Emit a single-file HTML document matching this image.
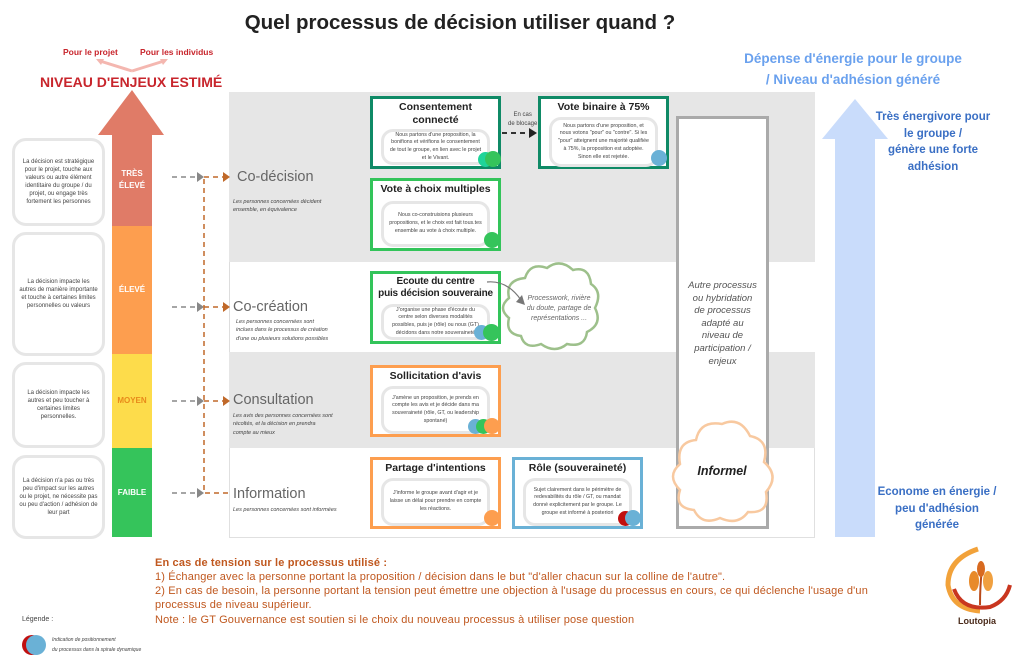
<!DOCTYPE html>
<html><head><meta charset="utf-8"><style>
*{margin:0;padding:0;box-sizing:border-box}
body{width:1024px;height:669px;background:#fff;position:relative;overflow:hidden;font-family:"Liberation Sans",sans-serif}
.a{position:absolute}
.lb{position:absolute;left:12px;width:93px;border:3px solid #e6e6e6;border-radius:14px;font-size:6px;color:#444;text-align:center;display:flex;align-items:center;justify-content:center;padding:4px;line-height:1.35}
.lvl{position:absolute;left:112px;width:40px;color:#fff;font-weight:bold;font-size:8px;text-align:center;display:flex;align-items:center;justify-content:center;line-height:1.5}
.h{position:absolute;font-size:14.5px;color:#666}
.sub{position:absolute;font-size:5.5px;color:#444;font-style:italic;line-height:1.5}
.card{position:absolute;background:#fff;border:3px solid;text-align:center}
.card b{display:block;font-size:10.5px;color:#222;line-height:1.2;margin-top:2px;white-space:nowrap}
.in{position:absolute;left:8px;right:8px;border:3px solid #e6e6e6;border-radius:12px;font-size:5.3px;color:#444;line-height:1.45;display:flex;align-items:center;justify-content:center;padding:2px 5px}
.dot{position:absolute;width:14px;height:14px;border-radius:50%}
.bt{position:absolute;color:#3a6fc4;font-weight:bold;font-size:11.5px;text-align:center;line-height:1.45}
.fb{position:absolute;left:155px;font-size:11px;letter-spacing:0.15px;color:#c0581f;line-height:14.3px}
</style></head><body>
<div class="a" style="left:0;top:11px;width:920px;text-align:center;font-weight:bold;font-size:20.5px;color:#222">Quel processus de décision utiliser quand ?</div>

<div class="a" style="left:63px;top:47px;font-size:8.5px;color:#c8252c;font-weight:bold">Pour le projet</div>
<div class="a" style="left:140px;top:47px;font-size:8.5px;color:#c8252c;font-weight:bold">Pour les individus</div>
<svg class="a" style="left:90px;top:55px" width="80" height="20"><path d="M42 16 L10 6 M42 16 L74 6" stroke="#f4b7b0" stroke-width="3" fill="none"/><path d="M6 4 L14 4 L11 10Z M78 4 L70 4 L73 10Z" fill="#f4b7b0"/></svg>
<div class="a" style="left:40px;top:74px;font-size:14px;color:#c8252c;font-weight:bold">NIVEAU D'ENJEUX ESTIMÉ</div>

<div class="a" style="left:736px;top:48px;width:234px;text-align:center;font-size:13.5px;color:#6aa1ee;font-weight:bold;line-height:21px">Dépense d'énergie pour le groupe<br>/ Niveau d'adhésion généré</div>

<div class="a" style="left:229px;top:92px;width:586px;height:170px;background:#e6e6e6"></div>
<div class="a" style="left:229px;top:262px;width:586px;height:90px;background:#fff;border-left:1px solid #ddd"></div>
<div class="a" style="left:229px;top:352px;width:586px;height:96px;background:#e6e6e6"></div>
<div class="a" style="left:229px;top:448px;width:586px;height:90px;background:#fff;border:1px solid #e0e0e0;border-top:none"></div>

<svg class="a" style="left:98px;top:88px" width="68" height="50"><path d="M34 2 L66 47 L0 47Z" fill="#e07b67"/></svg>
<div class="lvl" style="top:134px;height:92px;background:#e07b67">TRÈS<br>ÉLEVÉ</div>
<div class="lvl" style="top:226px;height:128px;background:#fd9e4f">ÉLEVÉ</div>
<div class="lvl" style="top:354px;height:94px;background:#fddc4b;color:#e88a1a">MOYEN</div>
<div class="lvl" style="top:448px;height:89px;background:#35c45b">FAIBLE</div>

<div class="lb" style="top:138px;height:88px">La décision est stratégique pour le projet, touche aux valeurs ou autre élément identitaire du groupe / du projet, ou engage très fortement les personnes</div>
<div class="lb" style="top:232px;height:124px">La décision impacte les autres de manière importante et touche à certaines limites personnelles ou valeurs</div>
<div class="lb" style="top:362px;height:86px">La décision impacte les autres et peu toucher à certaines limites personnelles.</div>
<div class="lb" style="top:455px;height:84px">La décision n'a pas ou très peu d'impact sur les autres ou le projet, ne nécessite pas ou peu d'action / adhésion de leur part</div>

<svg class="a" style="left:170px;top:165px" width="62" height="340">
<g stroke="#888" stroke-width="1.5" stroke-dasharray="5,4" fill="none">
<path d="M2 12 H28"/><path d="M2 142 H28"/><path d="M2 236 H28"/><path d="M2 328 H28"/></g>
<g fill="#888"><path d="M34 12 L27 7 L27 17Z"/><path d="M34 142 L27 137 L27 147Z"/><path d="M34 236 L27 231 L27 241Z"/><path d="M34 328 L27 323 L27 333Z"/></g>
<g stroke="#c0692a" stroke-width="1.5" stroke-dasharray="5,4" fill="none">
<path d="M34 14 V328 H60"/><path d="M34 12 H54"/><path d="M34 142 H54"/><path d="M34 236 H54"/></g>
<g fill="#c0692a"><path d="M60 12 L53 7 L53 17Z"/><path d="M60 142 L53 137 L53 147Z"/><path d="M60 236 L53 231 L53 241Z"/></g>
</svg>

<div class="h" style="left:237px;top:169px">Co-décision</div>
<div class="sub" style="left:233px;top:198px">Les personnes concernées décident<br>ensemble, en équivalence</div>
<div class="h" style="left:233px;top:299px">Co-création</div>
<div class="sub" style="left:236px;top:318px">Les personnes concernées sont<br>inclues dans le processus de création<br>d'une ou plusieurs solutions possibles</div>
<div class="h" style="left:233px;top:392px">Consultation</div>
<div class="sub" style="left:233px;top:412px">Les avis des personnes concernées sont<br>récoltés, et la décision en prendra<br>compte au mieux</div>
<div class="h" style="left:233px;top:486px">Information</div>
<div class="sub" style="left:233px;top:506px">Les personnes concernées sont informées</div>

<div class="card" style="left:370px;top:96px;width:131px;height:73px;border-color:#0f8a66"><b>Consentement<br>connecté</b>
<div class="in" style="top:30px;height:36px">Nous partons d'une proposition, la bonifions et vérifions le consentement de tout le groupe, en lien avec le projet et le Vivant.</div>
<div class="dot" style="left:105px;top:53px;background:#1fd49a;width:15px;height:15px"></div><div class="dot" style="left:112px;top:52px;background:#35c45b;width:16px;height:16px"></div></div>
<div class="a" style="left:508px;top:111px;font-size:6px;color:#444;text-align:center;line-height:1.5">En cas<br>de blocage</div>
<svg class="a" style="left:500px;top:127px" width="40" height="12"><path d="M2 6 H30" stroke="#333" stroke-width="2" stroke-dasharray="5,4"/><path d="M37 6 L29 1 L29 11Z" fill="#222"/></svg>
<div class="card" style="left:538px;top:96px;width:131px;height:73px;border-color:#0f8a66"><b>Vote binaire à 75%</b>
<div class="in" style="top:18px;height:50px">Nous partons d'une proposition, et nous votons "pour" ou "contre". Si les "pour" atteignent une majorité qualifiée à 75%, la proposition est adoptée. Sinon elle est rejetée.</div>
<div class="dot" style="left:110px;top:51px;background:#6ab1d6;width:16px;height:16px"></div></div>
<div class="card" style="left:370px;top:178px;width:131px;height:73px;border-color:#33c45a"><b>Vote à choix multiples</b>
<div class="in" style="top:20px;height:46px">Nous co-construisions plusieurs propositions, et le choix est fait tous.tes ensemble au vote à choix multiple.</div>
<div class="dot" style="left:111px;top:51px;background:#35c45b;width:16px;height:16px"></div></div>

<div class="card" style="left:370px;top:271px;width:131px;height:73px;border-color:#33c45a"><b style="font-size:10px;letter-spacing:-0.2px">Ecoute du centre<br>puis décision souveraine</b>
<div class="in" style="top:30px;height:36px">J'organise une phase d'écoute du centre selon diverses modalités possibles, puis je (rôle) ou nous (GT) décidons dans notre souveraineté</div>
<div class="dot" style="left:101px;top:51px;background:#6ab1d6;width:15px;height:15px"></div><div class="dot" style="left:110px;top:50px;background:#35c45b;width:17px;height:17px"></div></div>
<svg class="a" style="left:485px;top:258px" width="122" height="96">
<path d="M40 20 Q45 4 62 10 Q75 0 88 12 Q104 8 106 26 Q118 34 110 50 Q118 66 102 74 Q100 90 82 86 Q70 96 56 86 Q40 92 36 78 Q20 76 24 60 Q12 50 24 40 Q20 22 40 20Z" fill="#fff" stroke="#9dc08b" stroke-width="2.5"/>
<path d="M2 24 Q22 22 36 42" stroke="#777" stroke-width="1.2" fill="none"/><path d="M40 47 L31 44 L37 37Z" fill="#777"/>
<text x="74" y="42" font-size="7" fill="#666" font-style="italic" text-anchor="middle" font-family="Liberation Sans">Processwork, rivière</text>
<text x="74" y="52" font-size="7" fill="#666" font-style="italic" text-anchor="middle" font-family="Liberation Sans">du doute, partage de</text>
<text x="74" y="62" font-size="7" fill="#666" font-style="italic" text-anchor="middle" font-family="Liberation Sans">représentations ...</text></svg>

<div class="card" style="left:370px;top:365px;width:131px;height:72px;border-color:#fd9e4f"><b>Sollicitation d'avis</b>
<div class="in" style="top:18px;height:48px">J'amène un proposition, je prends en compte les avis et je décide dans ma souveraineté (rôle, GT, ou leadership spontané)</div>
<div class="dot" style="left:95px;top:51px;background:#6ab1d6;width:15px;height:15px"></div><div class="dot" style="left:103px;top:51px;background:#35c45b;width:15px;height:15px"></div><div class="dot" style="left:111px;top:50px;background:#fd9e4f;width:16px;height:16px"></div></div>

<div class="card" style="left:370px;top:457px;width:131px;height:72px;border-color:#fd9e4f"><b>Partage d'intentions</b>
<div class="in" style="top:18px;height:48px">J'informe le groupe avant d'agir et je laisse un délai pour prendre en compte les réactions.</div>
<div class="dot" style="left:111px;top:50px;background:#fd9e4f;width:16px;height:16px"></div></div>
<div class="card" style="left:512px;top:457px;width:131px;height:72px;border-color:#6ab1d6"><b>Rôle (souveraineté)</b>
<div class="in" style="top:18px;height:48px">Sujet clairement dans le périmètre de redevabilités du rôle / GT, ou mandat donné explicitement par le groupe. Le groupe est informé à posteriori</div>
<div class="dot" style="left:103px;top:51px;background:#c01010;width:15px;height:15px"></div><div class="dot" style="left:110px;top:50px;background:#6ab1d6;width:16px;height:16px"></div></div>

<div class="a" style="left:676px;top:116px;width:93px;height:413px;background:#fff;border:3px solid #aaa"></div>
<div class="a" style="left:676px;top:280px;width:93px;text-align:center;font-size:9.5px;font-style:italic;color:#555;line-height:12.6px">Autre processus<br>ou hybridation<br>de processus<br>adapté au<br>niveau de<br>participation /<br>enjeux</div>
<svg class="a" style="left:666px;top:412px" width="112" height="115">
<path d="M30 28 Q34 8 56 12 Q74 4 84 24 Q104 28 98 50 Q114 64 100 80 Q104 102 82 100 Q72 114 54 106 Q36 114 28 98 Q8 96 14 78 Q0 64 14 52 Q10 30 30 28Z" fill="#fff" stroke="#f8c9a0" stroke-width="2.5"/>
<text x="56" y="63" font-size="12.5" font-weight="bold" font-style="italic" fill="#222" text-anchor="middle" font-family="Liberation Sans">Informel</text></svg>

<svg class="a" style="left:822px;top:99px" width="68" height="440"><path d="M33 0 L66 40 L53 40 L53 438 L13 438 L13 40 L0 40Z" fill="#c9dcfb"/></svg>
<div class="bt" style="left:868px;top:109px;width:130px">Très énergivore pour<br>le groupe /<br>génère une forte<br>adhésion</div>
<div class="bt" style="left:872px;top:484px;width:130px">Econome en énergie /<br>peu d'adhésion<br>générée</div>

<div class="fb" style="top:556px;font-weight:bold">En cas de tension sur le processus utilisé :</div>
<div class="fb" style="top:570px">1) Échanger avec la personne portant la proposition / décision dans le but "d'aller chacun sur la colline de l'autre".</div>
<div class="fb" style="top:584px">2) En cas de besoin, la personne portant la tension peut émettre une objection à l'usage du processus en cours, ce qui déclenche l'usage d'un<br>processus de niveau supérieur.</div>
<div class="fb" style="top:613px">Note : le GT Gouvernance est soutien si le choix du nouveau processus à utiliser pose question</div>
<div class="a" style="left:22px;top:616px;font-size:7px;color:#444">Légende :</div>
<div class="dot" style="left:22px;top:635px;width:20px;height:20px;background:#c01010"></div>
<div class="dot" style="left:26px;top:635px;width:20px;height:20px;background:#6ab1d6"></div>
<div class="a" style="left:52px;top:636px;font-size:5px;font-style:italic;color:#444;line-height:1.9">Indication de positionnement<br>du processus dans la spirale dynamique</div>

<svg class="a" style="left:940px;top:545px" width="80" height="70">
<path d="M38 4 Q8 14 8 40 Q12 64 40 66" stroke="#f2a23a" stroke-width="5" fill="none"/>
<path d="M14 44 Q22 66 50 62 Q66 56 70 40" stroke="#c9361f" stroke-width="4" fill="none"/>
<path d="M40 60 Q40 40 42 24" stroke="#b84a1a" stroke-width="2" fill="none"/>
<ellipse cx="34" cy="36" rx="5" ry="10" fill="#e88a2a"/><ellipse cx="48" cy="36" rx="5" ry="10" fill="#f0a040"/><ellipse cx="41" cy="24" rx="4" ry="8" fill="#d86a20"/>
</svg>
<div class="a" style="left:942px;top:616px;width:70px;text-align:center;font-size:9px;font-weight:bold;color:#4a2a1a">Loutopia</div>
</body></html>
